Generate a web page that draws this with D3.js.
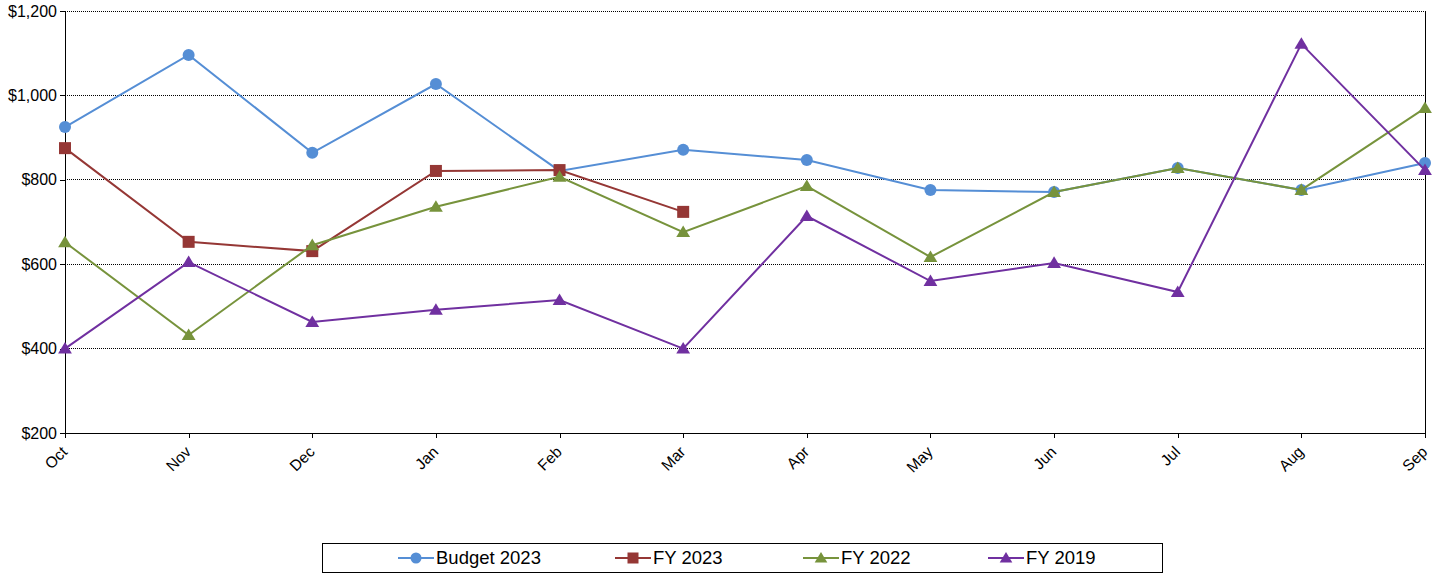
<!DOCTYPE html>
<html>
<head>
<meta charset="utf-8">
<script src="https://cdn.jsdelivr.net/npm/d3@7"></script>
<style>
  body { margin: 0; background: #fff; }
  svg { display: block; font-family: Arial, "Liberation Sans", sans-serif; }
</style>
</head>
<body>
<div id="chart"></div>
<script>
var months = ["Oct","Nov","Dec","Jan","Feb","Mar","Apr","May","Jun","Jul","Aug","Sep"];
var budget2023 = [925, 1096, 864, 1027, 821, 871, 847, 776, 771, 828, 776, 840];
var fy2023 = [875, 653, 631, 821, 823, 724];
var fy2022 = [652, 432, 645, 736, 807, 676, 785, 617, 771, 828, 776, 970];
var fy2019 = [400, 605, 463, 492, 515, 400, 714, 560, 603, 534, 1122, 823];
var yTicks = [200, 400, 600, 800, 1000, 1200];

var series = [
  {name: "Budget 2023", values: budget2023, color: "#558ED5", marker: "circle"},
  {name: "FY 2023", values: fy2023, color: "#953735", marker: "square"},
  {name: "FY 2022", values: fy2022, color: "#77933C", marker: "triangle"},
  {name: "FY 2019", values: fy2019, color: "#7030A0", marker: "triangle"}
];

var W = 1443, H = 574;
var plot = {left: 65, right: 1425, top: 11, bottom: 433};
var font = "Arial, 'Liberation Sans', sans-serif";

var svg = d3.select("#chart").append("svg")
  .attr("width", W).attr("height", H);

var x = d3.scalePoint().domain(months).range([plot.left, plot.right]);
var y = d3.scaleLinear().domain([200, 1200]).range([plot.bottom, plot.top]);

// gridlines
svg.append("g").selectAll("line")
  .data(yTicks.filter(function(d){ return d > 200; }))
  .enter().append("line")
  .attr("x1", plot.left).attr("x2", plot.right)
  .attr("y1", function(d){ return y(d); }).attr("y2", function(d){ return y(d); })
  .attr("stroke", "#000").attr("stroke-width", 1)
  .attr("stroke-dasharray", "1,1")
  .attr("shape-rendering", "crispEdges");

// right border
svg.append("line")
  .attr("x1", plot.right).attr("x2", plot.right)
  .attr("y1", plot.top).attr("y2", plot.bottom)
  .attr("stroke", "#000").attr("shape-rendering", "crispEdges");

// y axis
var yAxis = svg.append("g")
  .attr("transform", "translate(" + plot.left + ",0)")
  .call(d3.axisLeft(y).tickValues(yTicks).tickSize(5).tickPadding(3)
    .tickFormat(function(d){ return "$" + d3.format(",")(d); }));
yAxis.attr("font-size", 16).attr("font-family", font);
yAxis.select(".domain").attr("stroke", "#000");
yAxis.selectAll("text").attr("fill", "#000");
yAxis.attr("shape-rendering", "crispEdges");

// x axis
var xAxis = svg.append("g")
  .attr("transform", "translate(0," + plot.bottom + ")")
  .call(d3.axisBottom(x).tickSize(5).tickSizeOuter(0));
xAxis.attr("font-size", 15.5).attr("font-family", font);
xAxis.select(".domain").attr("stroke", "#000");
xAxis.attr("shape-rendering", "crispEdges");
xAxis.selectAll("text")
  .attr("fill", "#000")
  .attr("text-anchor", "end")
  .attr("y", 0)
  .attr("dy", "0.35em")
  .attr("transform", "translate(-1,16) rotate(-45)");

var line = d3.line()
  .x(function(d, i){ return x(months[i]); })
  .y(function(d){ return y(d); });

function drawMarker(g, type, color, cx, cy, s) {
  if (type === "circle") {
    g.append("circle").attr("cx", cx).attr("cy", cy).attr("r", s)
      .attr("fill", color);
  } else if (type === "square") {
    g.append("rect").attr("x", cx - s).attr("y", cy - s)
      .attr("width", 2 * s).attr("height", 2 * s).attr("fill", color);
  } else {
    var h = s * 1.1;
    g.append("path")
      .attr("d", "M" + cx + "," + (cy - h) + "L" + (cx + s * 1.15) + "," + (cy + h * 0.75) +
        "L" + (cx - s * 1.15) + "," + (cy + h * 0.75) + "Z")
      .attr("fill", color);
  }
}

series.forEach(function(s){
  var g = svg.append("g");
  g.append("path")
    .datum(s.values)
    .attr("d", line)
    .attr("fill", "none")
    .attr("stroke", s.color)
    .attr("stroke-width", 2);
  s.values.forEach(function(v, i){
    drawMarker(g, s.marker, s.color, x(months[i]), y(v), 6);
  });
});

// legend
var legend = svg.append("g");
legend.append("rect")
  .attr("x", 322.5).attr("y", 543.5).attr("width", 840).attr("height", 29)
  .attr("fill", "#fff").attr("stroke", "#000");
var legX = [398, 615, 803, 988];
series.forEach(function(s, i){
  var lg = legend.append("g");
  var lx = legX[i], ly = 558;
  lg.append("line").attr("x1", lx).attr("x2", lx + 36)
    .attr("y1", ly).attr("y2", ly)
    .attr("stroke", s.color).attr("stroke-width", 2);
  drawMarker(lg, s.marker, s.color, lx + 18, ly, 5.5);
  lg.append("text").attr("x", lx + 38).attr("y", ly).attr("dy", "0.35em")
    .attr("font-size", 18.5).attr("font-family", font).attr("fill", "#000")
    .text(s.name);
});
</script>
</body>
</html>
